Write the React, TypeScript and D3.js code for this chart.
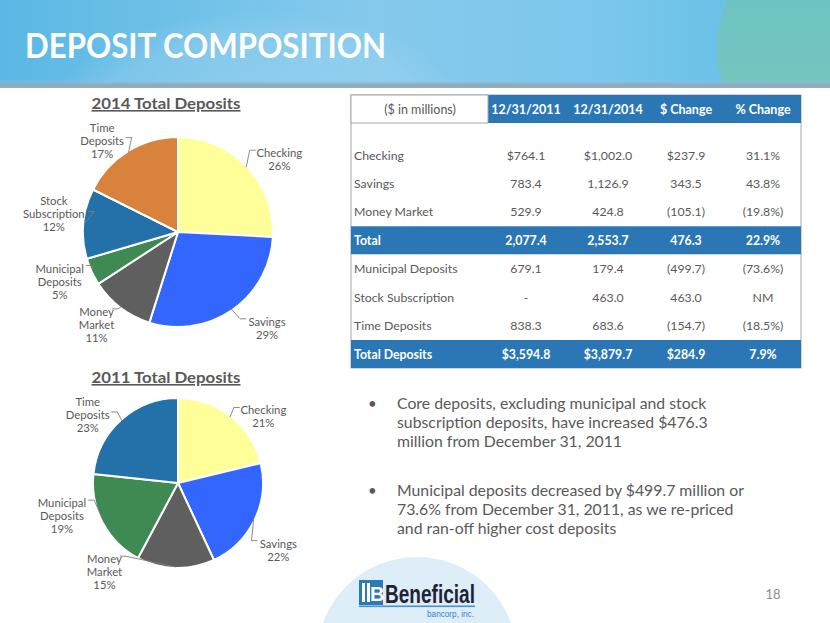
import React from "react";
import * as d3 from "d3";

// ---------- DATA ----------
const categories = ["Checking", "Savings", "Money Market", "Municipal Deposits", "Stock Subscription", "Time Deposits"];
const labelLines = [["Checking"], ["Savings"], ["Money", "Market"], ["Municipal", "Deposits"], ["Stock", "Subscription"], ["Time", "Deposits"]];
const values2014 = [1002.0, 1126.9, 424.8, 179.4, 463.0, 683.6];
const pct2014 = ["26%", "29%", "11%", "5%", "12%", "17%"];
const colors2014 = ["#FFFF99", "#3366FF", "#5F5F5F", "#3F8A53", "#2470A9", "#D9823B"];
const values2011 = [764.1, 783.4, 529.9, 679.1, 0, 838.3];
const pct2011 = ["21%", "22%", "15%", "19%", "", "23%"];
const colors2011 = ["#FFFF99", "#3366FF", "#5F5F5F", "#3F8A53", "#D9823B", "#2470A9"];

const tableHeaders = ["($ in millions)", "12/31/2011", "12/31/2014", "$ Change", "% Change"];
const tableRowNames = ["Checking", "Savings", "Money Market", "Total", "Municipal Deposits", "Stock Subscription", "Time Deposits", "Total Deposits"];
const col2011 = ["$764.1", "783.4", "529.9", "2,077.4", "679.1", "-", "838.3", "$3,594.8"];
const col2014 = ["$1,002.0", "1,126.9", "424.8", "2,553.7", "179.4", "463.0", "683.6", "$3,879.7"];
const colDollar = ["$237.9", "343.5", "(105.1)", "476.3", "(499.7)", "463.0", "(154.7)", "$284.9"];
const colPct = ["31.1%", "43.8%", "(19.8%)", "22.9%", "(73.6%)", "NM", "(18.5%)", "7.9%"];
const highlightRows = ["Total", "Total Deposits"];

const bullets = [
  ["Core deposits, excluding municipal and stock", "subscription deposits, have increased $476.3", "million from December 31, 2011"],
  ["Municipal deposits decreased by $499.7 million or", "73.6% from December 31, 2011, as we re-priced", "and ran-off higher cost deposits"],
];

// ---------- LAYOUT (not data) ----------
const FONT = "Lato, 'Open Sans', sans-serif";
const GRAY = "#595959";
const BLUE = "#2B77B6";
const nudge2014 = [8, -8, 4, 2, 3, -8];
const nudge2011 = [14, 8, 38, 12, 0, -11];
const labelDist2014 = [1.31, 1.38, 1.3, 1.35, 1.32, 1.25];
const labelDist2011 = [1.27, 1.42, 1.36, 1.42, 1.3, 1.33];

type PieProps = {
  cx: number; cy: number; r: number; title: string; titleY: number;
  values: number[]; pcts: string[]; colors: string[]; nudge: number[]; dist: number[];
};

function Pie({ cx, cy, r, title, titleY, values, pcts, colors, nudge, dist }: PieProps) {
  const pie = d3.pie<number>().sort(null).value((d) => d);
  const arcs = pie(values);
  const arc = d3.arc<d3.PieArcDatum<number>>().innerRadius(0).outerRadius(r);
  const polar = (a: number, rad: number): [number, number] => [cx + rad * Math.sin(a), cy - rad * Math.cos(a)];
  const lh = 13;
  return (
    <g>
      <text x={cx - 12} y={titleY} textAnchor="middle" fontFamily={FONT} fontWeight={700} fontSize={16}
        fill={GRAY} textDecoration="underline" textLength={149} lengthAdjust="spacingAndGlyphs">{title}</text>
      <g transform={`translate(${cx},${cy})`}>
        {arcs.map((a, i) => a.value > 0 ? (
          <path key={i} d={arc(a) || ""} fill={colors[i]} stroke="#fff" strokeWidth={2} strokeLinejoin="round" />
        ) : null)}
      </g>
      {arcs.map((a, i) => {
        if (a.value <= 0) return null;
        const mid = (a.startAngle + a.endAngle) / 2;
        const la = mid + (nudge[i] * Math.PI) / 180;
        const [lx, ly] = polar(la, r * dist[i]);
        const lines = [...labelLines[i], pcts[i]];
        const top = ly - ((lines.length - 1) * lh) / 2;
        const nameLines = labelLines[i];
        const connectLine = nameLines.length === 1 ? 0 : (la > Math.PI * 1.5 ? 1 : 0);
        const wLine = nameLines[connectLine].length * 5.4;
        const right = Math.sin(la) > 0;
        const ey = top + connectLine * lh - 3;
        const ex = right ? lx - wLine / 2 - 2 : lx + wLine / 2 + 2;
        const [sx, sy] = polar(mid, r - 1);
        const kx = right ? ex - 6 : ex + 6;
        return (
          <g key={"l" + i}>
            <polyline points={`${sx},${sy} ${kx},${ey} ${ex},${ey}`} fill="none" stroke="#7f7f7f" strokeWidth={0.9} />
            {lines.map((t, j) => (
              <text key={j} x={lx} y={top + j * lh + 4} textAnchor="middle" fontFamily={FONT} fontSize={11.3} fill={GRAY}>{t}</text>
            ))}
          </g>
        );
      })}
    </g>
  );
}

export default function App() {
  const W = 830, H = 623;
  const tX0 = 351, tX1 = 801, headY0 = 95, headY1 = 123, blueX0 = 488;
  const rowY = d3.scaleLinear().domain([0, 7]).range([155, 354]);
  const colX = [354, 526, 608, 686, 763];
  const rowBand = 28;
  return (
    <svg width={W} height={H} style={{ position: "absolute", left: 0, top: 0 }} viewBox={`0 0 ${W} ${H}`}>
      <defs>
        <linearGradient id="hdr" x1="0" x2="1" y1="0" y2="0">
          <stop offset="0" stopColor="#5AB8E4" />
          <stop offset="0.45" stopColor="#86CAED" />
          <stop offset="0.75" stopColor="#7AC6EB" />
          <stop offset="1" stopColor="#5ABEE6" />
        </linearGradient>
        <linearGradient id="shadow" x1="0" x2="0" y1="0" y2="1">
          <stop offset="0" stopColor="#9CC6E0" stopOpacity="0" />
          <stop offset="0.6" stopColor="#8AA8BC" />
          <stop offset="1" stopColor="#9AAFBC" />
        </linearGradient>
        <radialGradient id="glow" cx="0.5" cy="0.5" r="0.5">
          <stop offset="0" stopColor="#B5DDF3" stopOpacity="0.5" />
          <stop offset="0.8" stopColor="#A8D7F1" stopOpacity="0.3" />
          <stop offset="1" stopColor="#A8D7F1" stopOpacity="0" />
        </radialGradient>
        <linearGradient id="teal" x1="0" x2="0" y1="0" y2="1">
          <stop offset="0" stopColor="#68C2C4" />
          <stop offset="1" stopColor="#7CC6BE" />
        </linearGradient>
        <clipPath id="hclip"><rect x={0} y={0} width={W} height={88} /></clipPath>
        <clipPath id="pclip"><rect x={0} y={0} width={W} height={H} /></clipPath>
      </defs>
      <rect x={0} y={0} width={W} height={H} fill="#fff" />
      <g clipPath="url(#hclip)">
        <rect x={0} y={0} width={W} height={88} fill="url(#hdr)" />
        <ellipse cx={260} cy={150} rx={230} ry={140} fill="url(#glow)" />
        <circle cx={832} cy={48} r={115} fill="url(#teal)" />
        <rect x={0} y={80} width={W} height={8} fill="url(#shadow)" />
      </g>
      <text x={25} y={58} fontFamily={FONT} fontWeight={700} fontSize={34} fill="#fff"
        textLength={361} lengthAdjust="spacingAndGlyphs">DEPOSIT COMPOSITION</text>

      <g clipPath="url(#pclip)">
        <circle cx={417} cy={657} r={100} fill="#DDEEF9" />
      </g>

      <Pie cx={178} cy={232} r={95} title="2014 Total Deposits" titleY={109}
        values={values2014} pcts={pct2014} colors={colors2014} nudge={nudge2014} dist={labelDist2014} />
      <Pie cx={178} cy={483} r={85} title="2011 Total Deposits" titleY={383}
        values={values2011} pcts={pct2011} colors={colors2011} nudge={nudge2011} dist={labelDist2011} />

      <rect x={tX0} y={headY0} width={tX1 - tX0} height={368 - headY0} fill="#fff" stroke="#A6A6A6" strokeWidth={1} />
      <rect x={blueX0} y={headY0} width={tX1 - blueX0} height={headY1 - headY0} fill={BLUE} />
      <rect x={tX0} y={headY0} width={blueX0 - tX0} height={headY1 - headY0} fill="#fff" stroke="#A6A6A6" strokeWidth={1} />
      {tableHeaders.map((h, i) => (
        <text key={h} x={i === 0 ? 420 : colX[i]} y={114} textAnchor="middle" fontFamily={FONT}
          fontWeight={i === 0 ? 400 : 700} fontSize={12.5} fill={i === 0 ? GRAY : "#fff"}>{h}</text>
      ))}
      {tableRowNames.map((name, i) => {
        const y = rowY(i);
        const hl = highlightRows.includes(name);
        const fill = hl ? "#fff" : GRAY;
        const vals = [col2011[i], col2014[i], colDollar[i], colPct[i]];
        return (
          <g key={name}>
            {hl && <rect x={tX0} y={y - rowBand / 2} width={tX1 - tX0} height={rowBand} fill={BLUE} />}
            <text x={colX[0]} y={y + 4.5} fontFamily={FONT} fontSize={12.3} fontWeight={hl ? 700 : 400} fill={fill}>{name}</text>
            {vals.map((v, j) => (
              <text key={j} x={colX[j + 1]} y={y + 4.5} textAnchor="middle" fontFamily={FONT} fontSize={12.3}
                fontWeight={hl ? 700 : 400} fill={fill}>{v}</text>
            ))}
          </g>
        );
      })}

      {bullets.map((lines, b) => (
        <g key={b}>
          <text x={368} y={409 + b * 87} fontFamily={FONT} fontSize={15} fill={GRAY}>•</text>
          {lines.map((t, j) => (
            <text key={j} x={397} y={409 + b * 87 + j * 19} fontFamily={FONT} fontSize={15.8} fill={GRAY}>{t}</text>
          ))}
        </g>
      ))}

      <rect x={359} y={580} width={24} height={25} fill="#2A7AB9" />
      <rect x={362} y={583} width={3} height={19} fill="#fff" />
      <rect x={367} y={583} width={3} height={19} fill="#fff" />
      <text x={370} y={601} fontFamily="'Liberation Sans', Arial, sans-serif" fontWeight={700} fontSize={20} fill="#fff">B</text>
      <text x={385} y={603} fontFamily="'Liberation Sans', Arial, sans-serif" fontWeight={700} fontSize={25}
        fill="#1E2338" textLength={90} lengthAdjust="spacingAndGlyphs">Beneficial</text>
      <rect x={359} y={605.5} width={116} height={1.6} fill="#4A90CF" />
      <text x={427} y={617} fontFamily="'Liberation Sans', Arial, sans-serif" fontSize={9.5} fill="#3B82C4"
        textLength={47} lengthAdjust="spacingAndGlyphs">bancorp, inc.</text>

      <text x={773} y={599} textAnchor="middle" fontFamily={FONT} fontSize={13} fill="#8C8C8C">18</text>
    </svg>
  );
}
